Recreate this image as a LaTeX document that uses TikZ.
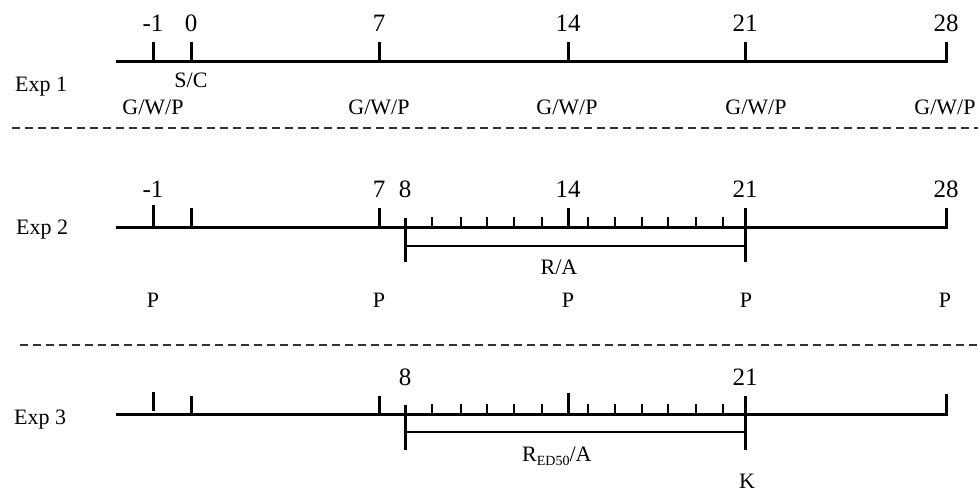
\documentclass[tikz,border=0pt]{standalone}
\usepackage{fontspec}
\setmainfont{Liberation Serif}
\begin{document}
\begin{tikzpicture}[x=1pt,y=-1pt,
  axis/.style={line width=3pt, line join=miter},
  bigtick/.style={line width=3pt},
  smalltick/.style={line width=2.5pt},
  bracket/.style={line width=1.6pt},
  sep/.style={line width=2pt, dash pattern=on 8pt off 5pt, draw=black!80},
  lbl/.style={inner sep=0pt, anchor=base, font=\fontsize{22}{26}\selectfont},
  lbll/.style={inner sep=0pt, anchor=base west, font=\fontsize{22}{26}\selectfont},
  num/.style={inner sep=0pt, anchor=base, font=\fontsize{25}{30}\selectfont},
]
\useasboundingbox (0,0) rectangle (978,492);

% ---------------- Exp 1 ----------------
\coordinate (a1s) at (116,62);
\coordinate (a1e) at (946,62);
\coordinate (a1t) at (946,42);
\draw[axis] (a1s) -- (a1e) -- (a1t);
\foreach \x in {153,191,379,568,745}
  \draw[bigtick] (\x,42) -- (\x,62);
\node[num] (n1m1) at (153,32) {-1};
\node[num] (n1z) at (191,32) {0};
\node[num] (n17) at (379,32) {7};
\node[num] (n114) at (568,32) {14};
\node[num] (n121) at (745,32) {21};
\node[num] (n128) at (946,32) {28};
\node[lbl] (sc) at (191,88) {S/C};
\node[lbll] (exp1) at (15,92) {Exp 1};
\node[lbl] (g1) at (153,115) {G/W/P};
\node[lbl] (g2) at (379,115) {G/W/P};
\node[lbl] (g3) at (567,115) {G/W/P};
\node[lbl] (g4) at (756,115) {G/W/P};
\node[lbl] (g5) at (945,115) {G/W/P};

\coordinate (d1s) at (12,128);
\coordinate (d1e) at (978,128);
\draw[sep] (d1s) -- (d1e);

% ---------------- Exp 2 ----------------
\coordinate (a2s) at (116,227);
\coordinate (a2e) at (946,227);
\coordinate (a2t) at (946,208);
\draw[axis] (a2s) -- (a2e) -- (a2t);
\draw[bigtick] (153,205) -- (153,227);
\foreach \x in {191,379,568}
  \draw[bigtick] (\x,208) -- (\x,227);
\foreach \x in {432,461,487,514,542,588,615,642,668,696,723}
  \draw[smalltick] (\x,217) -- (\x,227);
\coordinate (b2l) at (405,246);
\coordinate (b2r) at (745,246);
\draw[bigtick] (405,218) -- (405,262);
\draw[bigtick] (745,208) -- (745,262);
\draw[bracket] (b2l) -- (b2r);
\node[num] (n2m1) at (153,198) {-1};
\node[num] (n27) at (379,198) {7};
\node[num] (n28) at (405,198) {8};
\node[num] (n214) at (568,198) {14};
\node[num] (n221) at (745,198) {21};
\node[num] (n228) at (946,198) {28};
\node[lbll] (exp2) at (16,234) {Exp 2};
\node[lbl] (ra) at (559,274) {R/A};
\node[lbl] (p1) at (153,307) {P};
\node[lbl] (p2) at (379,307) {P};
\node[lbl] (p3) at (568,307) {P};
\node[lbl] (p4) at (746,307) {P};
\node[lbl] (p5) at (945,307) {P};

\coordinate (d2s) at (20,345);
\coordinate (d2e) at (978,345);
\draw[sep] (d2s) -- (d2e);

% ---------------- Exp 3 ----------------
\coordinate (a3s) at (116,414);
\coordinate (a3e) at (946,414);
\coordinate (a3t) at (946,394);
\draw[axis] (a3s) -- (a3e) -- (a3t);
\draw[bigtick] (153,392) -- (153,411);
\foreach \x in {191,379}
  \draw[bigtick] (\x,396) -- (\x,414);
\draw[bigtick] (568,393) -- (568,414);
\foreach \x in {432,461,487,514,542,588,615,642,668,696,723}
  \draw[smalltick] (\x,404) -- (\x,414);
\coordinate (b3l) at (405,432);
\coordinate (b3r) at (745,432);
\draw[bigtick] (405,405) -- (405,450);
\draw[bigtick] (745,396) -- (745,450);
\draw[bracket] (b3l) -- (b3r);
\node[num] (n38) at (405,385) {8};
\node[num] (n321) at (745,385) {21};
\node[lbll] (exp3) at (14,424) {Exp 3};
\node[inner sep=0pt, anchor=base west, font=\fontsize{22}{26}\selectfont] (red) at (522,461)
  {R\raisebox{-4pt}{\fontsize{14}{16}\selectfont ED50}/A};
\node[lbl] (k) at (747,488) {K};
\end{tikzpicture}
\end{document}
